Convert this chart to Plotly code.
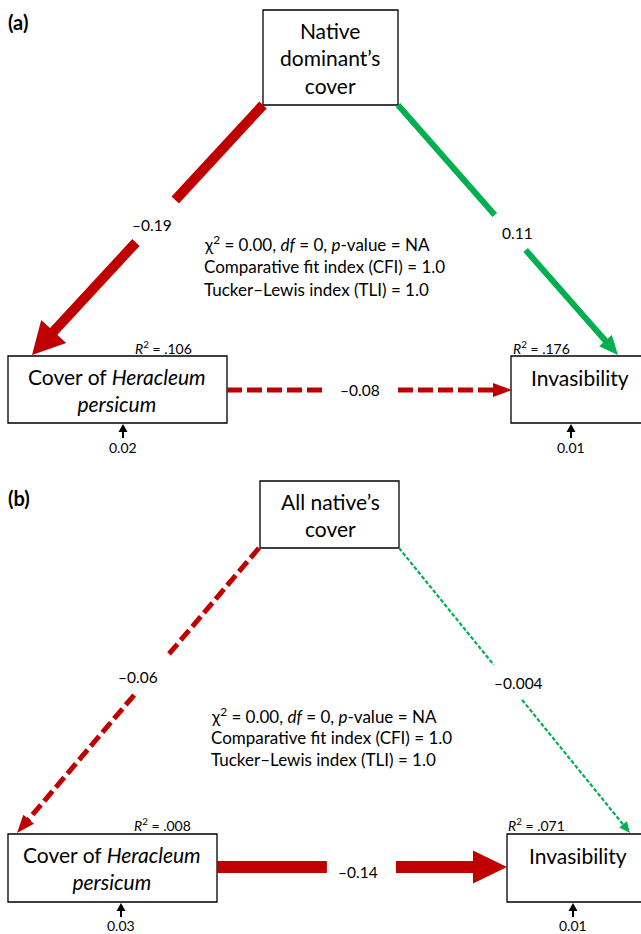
import numpy as np
import plotly.graph_objects as go

# ---------------- data ----------------
panel_labels = ["(a)", "(b)"]
top_node_labels = ["Native<br>dominant’s<br>cover", "All native’s<br>cover"]
left_node_label = "Cover of <i>Heracleum</i><br><i>persicum</i>"
right_node_label = "Invasibility"
coef_top_to_left = ["–0.19", "–0.06"]
coef_top_to_right = ["0.11", "–0.004"]
coef_left_to_right = ["–0.08", "–0.14"]
r2_left = [".106", ".008"]
r2_right = [".176", ".071"]
resid_left = ["0.02", "0.03"]
resid_right = ["0.01", "0.01"]
fit_chi2 = ["0.00", "0.00"]
fit_df = ["0", "0"]
fit_p = ["NA", "NA"]
fit_cfi = ["1.0", "1.0"]
fit_tli = ["1.0", "1.0"]

# ---------------- layout geometry (pixels, page coords) ----------------
W, H = 641, 934
FONT = "Lato"
RED, GREEN = "#C00000", "#00B050"

boxes = [
    dict(top=(263, 10, 398, 105), left=(8, 356, 227, 423), right=(511, 356, 644, 423)),
    dict(top=(260, 481, 399, 548), left=(8, 834, 217, 902), right=(507, 834, 644, 902)),
]
# text anchors
panel_pos = [(7, 22), (7, 498)]
top_text_pos = [(330, 58), (330, 515)]
left_text_pos = [(117, 390), (112, 868)]
right_text_pos = [(580, 377), (578, 855)]
r2_left_pos = [(163, 347), (162, 824)]
r2_right_pos = [(541, 347), (536, 824)]
stats_pos = [(203, 243, 23), (210, 715, 22)]
resid_x = [(123, 571), (121, 573)]
resid_label_y = [447, 925]

# edge styles: start, tip, label pos, gap(t0,t1), width, color, dash, head length, head width
edges = [
    [
        dict(s=(263, 105), e=(32, 355), lab=(152, 225), gap=(0.38, 0.55), w=10, c=RED, dash="solid", hl=32, hw=34, txt=coef_top_to_left[0]),
        dict(s=(398, 105), e=(618, 355), lab=(517, 233), gap=(0.44, 0.58), w=6, c=GREEN, dash="solid", hl=19, hw=17, txt=coef_top_to_right[0]),
        dict(s=(227, 390), e=(512, 390), lab=(360, 390), gap=(0.337, 0.6), w=5, c=RED, dash="15px,5px", hl=19, hw=14, txt=coef_left_to_right[0]),
    ],
    [
        dict(s=(259, 548), e=(17, 833), lab=(138, 677), gap=(0.374, 0.516), w=5, c=RED, dash="13px,5px", hl=18, hw=14, txt=coef_top_to_left[1]),
        dict(s=(399, 548), e=(630, 833), lab=(518, 683), gap=(0.41, 0.533), w=2.2, c=GREEN, dash="4px,2px", hl=11, hw=10, txt=coef_top_to_right[1]),
        dict(s=(217, 867), e=(507, 867), lab=(358, 872), gap=(0.379, 0.617), w=12, c=RED, dash="solid", hl=34, hw=33, txt=coef_left_to_right[1]),
    ],
]

fig = go.Figure()
shapes = []
annotations = []


def add_text(x, y, text, size, xanchor="center", color="black"):
    annotations.append(dict(x=x, y=y, xref="x", yref="y", text=text, showarrow=False,
                            xanchor=xanchor, yanchor="middle", borderpad=0,
                            font=dict(family=FONT, size=size, color=color)))


def arrow(s, e, w, c, dash, hl, hw, gap=None):
    s = np.array(s, float)
    e = np.array(e, float)
    d = e - s
    L = np.hypot(*d)
    u = d / L
    n = np.array([-u[1], u[0]])
    base = e - u * hl
    segs = []
    if gap is None:
        segs.append((s, base + u * 1))
    else:
        segs.append((s, s + d * gap[0]))
        segs.append((s + d * gap[1], base + u * 1))
    for a, b in segs:
        shapes.append(dict(type="line", xref="x", yref="y", x0=a[0], y0=a[1], x1=b[0], y1=b[1],
                           line=dict(color=c, width=w, dash=dash)))
    p1 = base + n * hw / 2
    p2 = base - n * hw / 2
    shapes.append(dict(type="path", xref="x", yref="y",
                       path=f"M {e[0]},{e[1]} L {p1[0]},{p1[1]} L {p2[0]},{p2[1]} Z",
                       fillcolor=c, line=dict(width=0)))


for p in range(2):
    b = boxes[p]
    for key in ("top", "left", "right"):
        x0, y0, x1, y1 = b[key]
        shapes.append(dict(type="rect", xref="x", yref="y", x0=x0, y0=y0, x1=x1, y1=y1,
                           line=dict(color="black", width=1.3), fillcolor="rgba(0,0,0,0)"))
    add_text(panel_pos[p][0], panel_pos[p][1], f"<b>{panel_labels[p]}</b>", 20, xanchor="left")
    add_text(*top_text_pos[p], top_node_labels[p], 21)
    add_text(*left_text_pos[p], left_node_label, 21)
    add_text(*right_text_pos[p], right_node_label, 21)
    add_text(*r2_left_pos[p], f"<i>R</i><sup>2</sup> = {r2_left[p]}", 14)
    add_text(*r2_right_pos[p], f"<i>R</i><sup>2</sup> = {r2_right[p]}", 14)
    sx, sy, dy = stats_pos[p]
    add_text(sx, sy, f"χ<sup>2</sup> = {fit_chi2[p]}, <i>df</i> = {fit_df[p]}, <i>p</i>-value = {fit_p[p]}", 17, xanchor="left")
    add_text(sx, sy + dy, f"Comparative fit index (CFI) = {fit_cfi[p]}", 17, xanchor="left")
    add_text(sx, sy + 2 * dy, f"Tucker–Lewis index (TLI) = {fit_tli[p]}", 17, xanchor="left")
    for ed in edges[p]:
        arrow(ed["s"], ed["e"], ed["w"], ed["c"], ed["dash"], ed["hl"], ed["hw"], ed["gap"])
        add_text(ed["lab"][0], ed["lab"][1], ed["txt"], 15.5)
    # residual arrows
    for k, (rx, rtxt) in enumerate(zip(resid_x[p], (resid_left[p], resid_right[p]))):
        yb = (b["left"] if k == 0 else b["right"])[3]
        arrow((rx, yb + 15), (rx, yb + 1), 2, "black", "solid", 8, 9)
        add_text(rx, resid_label_y[p], rtxt, 14)

fig.update_layout(
    width=W, height=H, margin=dict(l=0, r=0, t=0, b=0),
    paper_bgcolor="white", plot_bgcolor="white",
    xaxis=dict(range=[0, W], visible=False, fixedrange=True),
    yaxis=dict(range=[H, 0], visible=False, fixedrange=True),
    shapes=shapes, annotations=annotations, showlegend=False,
)
fig.write_html("out.html")
